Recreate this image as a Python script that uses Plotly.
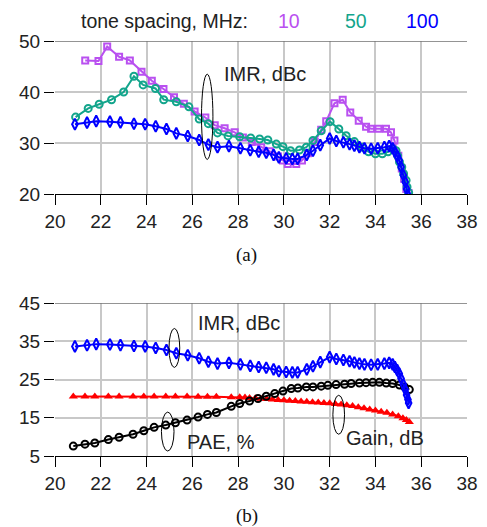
import plotly.graph_objects as go

# ---------------- data ----------------
# Panel (a): IMR vs frequency for three tone spacings
f10 = [21.32, 21.9, 22.28, 22.8, 23.27, 23.78, 24.23, 24.74, 25.2, 25.63, 26.1, 26.57, 26.98,
       27.41, 27.85, 28.21, 28.6, 29.01, 29.38, 29.74, 29.96, 30.17, 30.54, 30.79, 31.05, 31.35,
       31.63, 31.85, 32.21, 32.57, 32.9, 33.27, 33.59, 33.81, 34.13, 34.46, 34.68, 34.83, 35.0,
       35.15, 35.25, 35.35, 35.45]
imr10 = [46.2, 46.1, 48.9, 46.9, 46.2, 44.0, 42.2, 40.6, 39.0, 37.7, 36.2, 35.0, 33.5,
         32.9, 32.1, 31.1, 30.2, 29.2, 28.4, 27.35, 26.6, 25.9, 25.9, 26.6, 28.0, 30.2,
         32.6, 34.3, 37.8, 38.5, 36.0, 34.4, 33.2, 32.8, 32.8, 32.8, 32.1, 30.5, 27.5,
         25.0, 23.0, 21.0, 20.2]

f50 = [20.9, 21.45, 21.93, 22.47, 23.0, 23.45, 23.85, 24.39, 24.75, 25.3, 25.85, 26.3, 26.7,
       27.1, 27.56, 28.07, 28.55, 28.94, 29.3, 29.67, 29.96, 30.29, 30.68, 30.98, 31.27, 31.63,
       32.02, 32.4, 32.72, 33.08, 33.42, 33.7, 34.0, 34.3, 34.55, 34.75, 34.9, 34.97, 35.05,
       35.15, 35.23, 35.34, 35.38, 35.45]
imr50 = [35.1, 36.8, 37.6, 38.5, 40.0, 43.1, 41.4, 40.7, 38.5, 38.1, 37.1, 34.7, 33.8,
         32.0, 31.4, 31.25, 31.0, 30.8, 30.6, 29.8, 29.3, 28.5, 28.65, 29.2, 30.5, 32.4,
         34.2, 32.75, 31.45, 30.3, 29.2, 28.3, 27.9, 27.9, 28.3, 28.9, 28.5, 27.5, 26.3,
         25.3, 24.0, 22.7, 21.4, 20.3]

f100 = [20.87, 21.4, 21.8, 22.4, 22.86, 23.45, 23.94, 24.4, 24.87, 25.3, 25.8, 26.3, 26.7,
        27.1, 27.6, 28.1, 28.53, 28.9, 29.23, 29.55, 29.78, 30.1, 30.37, 30.6, 31.0, 31.27,
        31.59, 32.0, 32.29, 32.6, 32.87, 33.08, 33.3, 33.52, 33.81, 34.1, 34.39, 34.6, 34.75,
        34.85, 34.95, 35.04, 35.12, 35.22, 35.3, 35.36, 35.42, 35.45]
imr100 = [33.7, 34.0, 34.3, 34.2, 34.05, 33.8, 33.7, 33.3, 32.75, 31.9, 31.4, 30.6, 29.7,
          29.2, 29.4, 29.0, 28.6, 28.3, 28.1, 27.7, 27.2, 27.0, 26.9, 26.9, 27.7, 28.5,
          29.6, 30.9, 30.4, 30.15, 29.8, 29.5, 29.2, 29.0, 28.9, 29.0, 29.2, 29.4, 29.0,
          28.3, 27.5, 26.6, 25.3, 23.7, 22.4, 21.0, 19.8, 18.9]

# Panel (b): PAE and gain vs frequency (IMR reuses the 100 MHz series)
f_pae = [20.8, 21.31, 21.74, 22.33, 22.8, 23.41, 23.88, 24.33, 24.84, 25.26, 25.77, 26.25,
         26.66, 27.05, 27.7, 28.07, 28.5, 28.87, 29.23, 29.6, 29.96, 30.32, 30.61, 30.98,
         31.27, 31.63, 31.92, 32.28, 32.65, 32.94, 33.3, 33.59, 33.88, 34.17, 34.47, 34.75,
         35.05, 35.27, 35.48]
pae = [7.6, 8.1, 8.4, 9.3, 9.9, 10.7, 11.6, 12.5, 13.1, 13.7, 14.4, 15.2,
       15.9, 16.4, 18.0, 18.75, 19.4, 20.05, 20.65, 21.35, 22.0, 22.65, 22.8, 23.1,
       23.1, 23.3, 23.5, 23.7, 23.8, 24.0, 24.1, 24.2, 24.3, 24.3, 24.1, 24.0,
       23.6, 23.1, 22.4]

f_gain = [20.8, 21.31, 21.74, 22.33, 22.8, 23.41, 23.88, 24.33, 24.84, 25.26, 25.77, 26.25,
          26.66, 27.05, 27.7, 28.07, 28.3, 28.5, 28.75, 29.0, 29.25, 29.5, 29.75, 30.0,
          30.25, 30.5, 30.75, 31.0, 31.25, 31.5, 31.75, 32.0, 32.25, 32.5, 32.75, 33.0,
          33.25, 33.5, 33.75, 34.0, 34.25, 34.5, 34.75, 35.0, 35.2, 35.35, 35.48]
gain = [20.6, 20.6, 20.6, 20.6, 20.6, 20.6, 20.6, 20.6, 20.6, 20.6, 20.6, 20.5,
        20.5, 20.5, 20.4, 20.4, 20.3, 20.2, 20.1, 20.0, 19.9, 19.8, 19.7, 19.6,
        19.5, 19.4, 19.3, 19.2, 19.1, 19.0, 18.9, 18.8, 18.6, 18.5, 18.3, 18.1,
        17.8, 17.5, 17.2, 16.9, 16.6, 16.3, 15.9, 15.4, 14.9, 14.4, 13.9]

x_ticks = [20, 22, 24, 26, 28, 30, 32, 34, 36, 38]
y_ticks_a = [20, 30, 40, 50]
y_ticks_b = [5, 15, 25, 35, 45]

PURPLE = "#B950F0"
GREEN = "#13A58C"
BLUE = "#0000FF"
RED = "#FF0000"
BLACK = "#000000"

FONT = "Liberation Sans, Arial, sans-serif"

fig = go.Figure()

# ---- panel (a)
fig.add_trace(go.Scatter(x=f10, y=imr10, mode="lines+markers", xaxis="x", yaxis="y",
                         line=dict(color=PURPLE, width=2),
                         marker=dict(symbol="square-open", size=6, color=PURPLE, line=dict(width=2))))
fig.add_trace(go.Scatter(x=f50, y=imr50, mode="lines+markers", xaxis="x", yaxis="y",
                         line=dict(color=GREEN, width=2),
                         marker=dict(symbol="circle-open", size=7, color=GREEN, line=dict(width=2))))
fig.add_trace(go.Scatter(x=f100, y=imr100, mode="lines+markers", xaxis="x", yaxis="y",
                         line=dict(color=BLUE, width=2),
                         marker=dict(symbol="diamond-tall-open", size=8, color=BLUE, line=dict(width=2))))

# ---- panel (b)
fig.add_trace(go.Scatter(x=f_gain, y=gain, mode="lines+markers", xaxis="x2", yaxis="y2",
                         line=dict(color=RED, width=2),
                         marker=dict(symbol="triangle-up", size=8, color=RED)))
fig.add_trace(go.Scatter(x=f_pae, y=pae, mode="lines+markers", xaxis="x2", yaxis="y2",
                         line=dict(color=BLACK, width=2),
                         marker=dict(symbol="circle-open", size=7, color=BLACK, line=dict(width=2))))
fig.add_trace(go.Scatter(x=f100, y=imr100, mode="lines+markers", xaxis="x2", yaxis="y2",
                         line=dict(color=BLUE, width=2),
                         marker=dict(symbol="diamond-tall-open", size=8, color=BLUE, line=dict(width=2))))

axis_common = dict(showgrid=True, gridcolor="#C8C8C8", gridwidth=1.5, zeroline=False,
                   automargin=False,
                   ticks="outside", ticklen=10, tickcolor="#000", tickwidth=1,
                   tickfont=dict(family=FONT, size=19, color="#222"))

# The page body adds an 8 px offset, so the figure is sized/offset to compensate.
fig.update_layout(
    template="none",
    width=479, height=519,
    margin=dict(l=47, r=20, t=33, b=71, autoexpand=False),
    plot_bgcolor="white", paper_bgcolor="white",
    showlegend=False,
    xaxis=dict(domain=[0, 1], anchor="y", range=[20, 38], tickvals=x_ticks,
               showline=True, linecolor="#000", linewidth=1, **axis_common),
    yaxis=dict(domain=[0.631, 1.0], anchor="x", range=[20, 50], tickvals=y_ticks_a,
               showline=False, **axis_common),
    xaxis2=dict(domain=[0, 1], anchor="y2", range=[20, 38], tickvals=x_ticks,
                showline=True, linecolor="#000", linewidth=1, **axis_common),
    yaxis2=dict(domain=[0.0, 0.368], anchor="x2", range=[5, 45], tickvals=y_ticks_b,
                showline=False, **axis_common),
)

# top border lines (darker gray)
fig.add_shape(type="line", xref="x", yref="y", x0=20, x1=38, y0=50, y1=50,
              line=dict(color="#707070", width=1.5))
fig.add_shape(type="line", xref="x2", yref="y2", x0=20, x1=38, y0=45, y1=45,
              line=dict(color="#707070", width=1.5))

# ellipses
ell = dict(type="circle", line=dict(color="#000", width=1))
fig.add_shape(xref="x", yref="y", x0=26.4, x1=26.9, y0=26.8, y1=43.5, **ell)
fig.add_shape(xref="x2", yref="y2", x0=24.98, x1=25.45, y0=28.2, y1=38.4, **ell)
fig.add_shape(xref="x2", yref="y2", x0=24.65, x1=25.2, y0=6.3, y1=16.5, **ell)
fig.add_shape(xref="x2", yref="y2", x0=32.14, x1=32.65, y0=10.7, y1=20.9, **ell)

def label(text, x, y, xref, yref, color="#222", size=20, family=FONT, xanchor="left",
          yanchor="middle"):
    fig.add_annotation(text=text, x=x, y=y, xref=xref, yref=yref, showarrow=False,
                       xanchor=xanchor, yanchor=yanchor,
                       font=dict(family=family, size=size, color=color))

label("IMR, dBc", 27.3, 43.6, "x", "y")
label("IMR, dBc", 26.16, 39.8, "x2", "y2")
label("PAE, %", 25.68, 8.7, "x2", "y2")
label("Gain, dB", 32.62, 9.8, "x2", "y2")

# header row: top of the text box at the top edge of the figure
HY = 1 + 33 / 415
label("tone spacing, MHz:", 0.058, HY, "paper", "paper", size=19.5, yanchor="top")
label("10", 0.568, HY, "paper", "paper", color=PURPLE, xanchor="center", size=19.5, yanchor="top")
label("50", 0.731, HY, "paper", "paper", color=GREEN, xanchor="center", size=19.5, yanchor="top")
label("100", 0.893, HY, "paper", "paper", color=BLUE, xanchor="center", size=19.5, yanchor="top")

label("(a)", 0.466, 0.484, "paper", "paper", family="Liberation Serif, Times New Roman, serif",
      size=19, color="#111", xanchor="center")
label("(b)", 0.466, -0.144, "paper", "paper", family="Liberation Serif, Times New Roman, serif",
      size=19, color="#111", xanchor="center")

fig.write_html("out.html")
